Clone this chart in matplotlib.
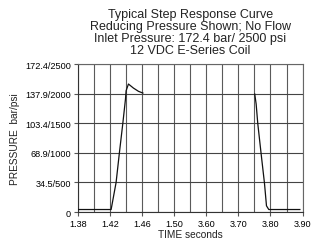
import matplotlib
matplotlib.use('Agg')
import matplotlib.pyplot as plt
import numpy as np

plt.rcParams['font.family'] = ['Liberation Sans', 'DejaVu Sans']

# tick positions of the broken time axis (equally spaced on the chart)
time_ticks = [1.38, 1.42, 1.46, 1.50, 3.60, 3.70, 3.80, 3.90]
time_labels = ['1.38', '1.42', '1.46', '1.50', '3.60', '3.70', '3.80', '3.90']
press_ticks = [0, 34.5, 68.9, 103.4, 137.9, 172.4]
press_labels = ['0', '34.5/500', '68.9/1000', '103.4/1500', '137.9/2000', '172.4/2500']

# energize: step up (bar)
rise_t = [1.380, 1.4213, 1.4275, 1.4316, 1.4359, 1.4392, 1.4400, 1.4429, 1.4491, 1.4554, 1.4609]
rise_p = [3.0, 3.0, 34.5, 68.9, 103.4, 131.6, 141.3, 149.1, 144.4, 140.6, 138.6]

# de-energize: step down (bar)
fall_t = [3.7509, 3.7553, 3.7603, 3.7709, 3.7813, 3.7875, 3.7947, 3.8916]
fall_p = [137.4, 125.8, 103.3, 67.6, 33.4, 7.3, 3.0, 3.0]

idx = np.arange(len(time_ticks), dtype=float)


def fwd(t):
    return np.interp(t, time_ticks, idx)


def inv(u):
    return np.interp(u, idx, time_ticks)


fig = plt.figure(figsize=(3.19, 2.51), dpi=100)
ax = fig.add_axes([0.2445, 0.151, 0.704, 0.590])
ax.set_xscale('function', functions=(fwd, inv))
ax.set_xlim(1.38, 3.90)
ax.set_ylim(0, 172.4)

# vertical grid at each label and halfway between
grid_t = inv(np.arange(0, 7.01, 0.5))
for g in grid_t:
    ax.axvline(g, color='#5a5a5a', lw=0.8, zorder=1)
for p in press_ticks:
    ax.axhline(p, color='#444444', lw=0.8, zorder=1)

ax.plot(rise_t, rise_p, color='#111111', lw=0.9, zorder=3)
ax.plot(fall_t, fall_p, color='#111111', lw=0.9, zorder=3)

ax.set_xticks(time_ticks)
ax.set_xticklabels(time_labels)
ax.minorticks_off()
ax.set_yticks(press_ticks)
ax.set_yticklabels(press_labels)
ax.tick_params(labelsize=6.6, length=3, width=0.8, color='#555555', pad=2)

for s in ax.spines.values():
    s.set_color('#666666')
    s.set_linewidth(0.8)
ax.spines['left'].set_color('#333333')
ax.spines['bottom'].set_color('#333333')

ax.set_xlabel('TIME seconds', fontsize=7.3, labelpad=1, color='#222222')
ax.set_ylabel('PRESSURE  bar/psi', fontsize=7.3, labelpad=4, color='#222222')
ax.set_title('Typical Step Response Curve\nReducing Pressure Shown; No Flow\n'
             'Inlet Pressure: 172.4 bar/ 2500 psi\n12 VDC E-Series Coil',
             fontsize=9, linespacing=1.0, pad=8, color='#222222')

fig.savefig('out.png', dpi=100)
